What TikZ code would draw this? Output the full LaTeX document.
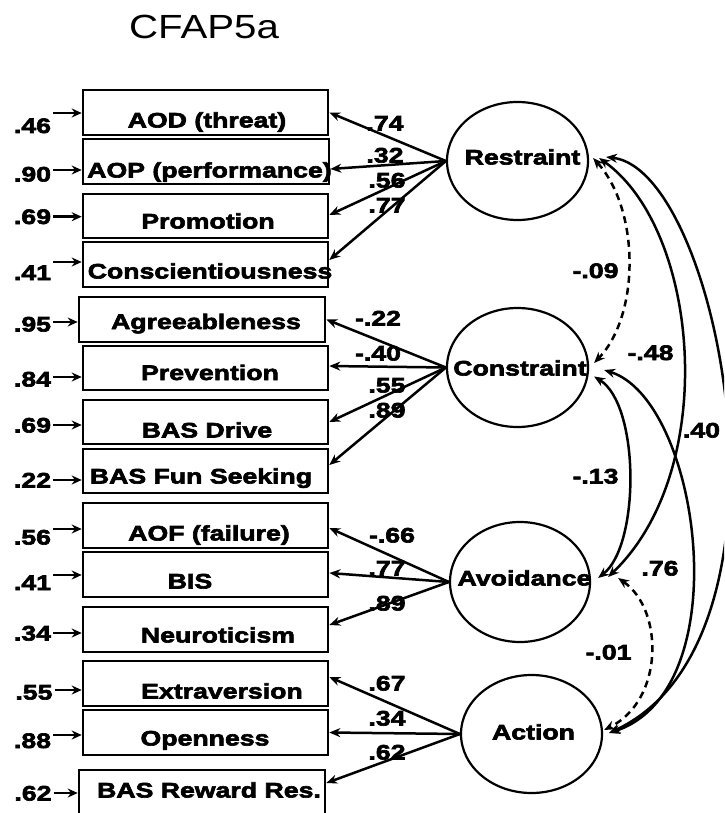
\documentclass[tikz,border=0pt]{standalone}
\usepackage{fontspec}
\usetikzlibrary{shapes.geometric,arrows.meta,calc}
\newfontfamily\lblfont{Liberation Sans}[FakeStretch=1.27,FakeBold=3]
\newfontfamily\ttlfont{Liberation Sans}[FakeStretch=1.2]
\begin{document}
\begin{tikzpicture}[x=1pt,y=-1pt,
  box/.style={draw, line width=2.6pt, inner sep=0pt, minimum height=45pt},
  lat/.style={draw, ellipse, line width=2.2pt, inner sep=0pt},
  lbl/.style={font=\lblfont\bfseries\fontsize{21}{21}\selectfont, inner sep=0pt, anchor=base},
  ttl/.style={font=\ttlfont\fontsize{33.5}{33.5}\selectfont, inner sep=0pt, anchor=base},
  res/.style={line width=2.5pt, -{Stealth[length=10pt,width=9pt]}},
  load/.style={line width=2.5pt, -{Stealth[length=11pt,width=9pt]}},
  cor/.style={line width=2.5pt, {Stealth[length=11pt,width=9pt]}-{Stealth[length=11pt,width=9pt]}},
  cordash/.style={cor, dash pattern=on 7pt off 5pt}]
\useasboundingbox (0,0) rectangle (724,813);
\clip (0,0) rectangle (724,813);
\fill[white] (0,0) rectangle (724,813);

% title
\node[ttl] (title) at (204,39) {CFAP5a};

% indicator boxes
\node[box, minimum width=245pt] (b1) at (205.5,112.5) {};
\node[box, minimum width=246pt] (b2) at (206,161.5) {};
\node[box, minimum width=245pt, minimum height=44pt] (b3) at (205.5,216) {};
\node[box, minimum width=245pt] (b4) at (205.5,264.5) {};
\node[box, minimum width=246pt] (b5) at (202,319.5) {};
\node[box, minimum width=245pt, minimum height=44pt] (b6) at (205.5,368) {};
\node[box, minimum width=245pt, minimum height=44pt] (b7) at (205.5,422) {};
\node[box, minimum width=245pt, minimum height=44pt] (b8) at (205.5,471) {};
\node[box, minimum width=245pt] (b9) at (205.5,525.5) {};
\node[box, minimum width=245pt] (b10) at (205.5,574.5) {};
\node[box, minimum width=245pt] (b11) at (205.5,629.5) {};
\node[box, minimum width=245pt] (b12) at (205.5,683.5) {};
\node[box, minimum width=245pt] (b13) at (205.5,732.5) {};
\node[box, minimum width=246pt] (b14) at (202,792.5) {};

% box texts
\node[lbl] (t1) at (207,127.5) {AOD (threat)};
\node[lbl] (t2) at (209.5,177.5) {AOP (performance)};
\node[lbl] (t3) at (208,228.5) {Promotion};
\node[lbl] (t4) at (210,278.5) {Conscientiousness};
\node[lbl] (t5) at (206,329) {Agreeableness};
\node[lbl] (t6) at (210,380) {Prevention};
\node[lbl] (t7) at (207,437.5) {BAS Drive};
\node[lbl] (t8) at (201,483.5) {BAS Fun Seeking};
\node[lbl] (t9) at (209,540.5) {AOF (failure)};
\node[lbl] (t10) at (190,588.5) {BIS};
\node[lbl] (t11) at (218,642.5) {Neuroticism};
\node[lbl] (t12) at (222,698.5) {Extraversion};
\node[lbl] (t13) at (205,745.5) {Openness};
\node[lbl] (t14) at (209,797.5) {BAS Reward Res.};

% residuals
\node[lbl] (e1) at (32.5,133) {.46};
\node[lbl] (e2) at (32.5,181.5) {.90};
\node[lbl] (e3) at (32.5,224) {.69};
\node[lbl] (e4) at (32.5,280) {.41};
\node[lbl] (e5) at (32.5,331.5) {.95};
\node[lbl] (e6) at (32.5,386.5) {.84};
\node[lbl] (e7) at (32.5,432.5) {.69};
\node[lbl] (e8) at (32.5,487.5) {.22};
\node[lbl] (e9) at (32.5,544.5) {.56};
\node[lbl] (e10) at (32.5,590) {.41};
\node[lbl] (e11) at (32.5,640.5) {.34};
\node[lbl] (e12) at (34,699.5) {.55};
\node[lbl] (e13) at (32.5,748) {.88};
\node[lbl] (e14) at (33,800.5) {.62};

\draw[res] (e1.east |- 0,113) ++(2,0) -- (b1.west |- 0,113);
\draw[res] (e2.east |- 0,170) ++(2,0) -- (b2.west |- 0,170);
\draw[res] (e3.east |- 0,216.7) ++(2,0) -- (b3.west |- 0,216.7);
\draw[res] (e4.east |- 0,262) ++(2,0) -- (b4.west |- 0,262);
\draw[res] (e5.east |- 0,322) ++(2,0) -- (b5.west |- 0,322);
\draw[res] (e6.east |- 0,377) ++(2,0) -- (b6.west |- 0,377);
\draw[res] (e7.east |- 0,425) ++(2,0) -- (b7.west |- 0,425);
\draw[res] (e8.east |- 0,480) ++(2,0) -- (b8.west |- 0,480);
\draw[res] (e9.east |- 0,529) ++(2,0) -- (b9.west |- 0,529);
\draw[res] (e10.east |- 0,575) ++(2,0) -- (b10.west |- 0,575);
\draw[res] (e11.east |- 0,633) ++(2,0) -- (b11.west |- 0,633);
\draw[res] (e12.east |- 0,690) ++(2,0) -- (b12.west |- 0,690);
\draw[res] (e13.east |- 0,735) ++(2,0) -- (b13.west |- 0,735);
\draw[res] (e14.east |- 0,793) ++(2,0) -- (b14.west |- 0,793);

% latent factors
\node[lat, minimum width=141pt, minimum height=118pt] (R) at (517.5,161) {};
\node[lat, minimum width=141pt, minimum height=119pt] (C) at (517.5,367.5) {};
\node[lat, minimum width=140pt, minimum height=120pt] (Av) at (520,582) {};
\node[lat, minimum width=141pt, minimum height=118pt] (Ac) at (531.5,734) {};
\node[lbl] (tR) at (522.5,164.5) {Restraint};
\node[lbl] (tC) at (520,375.5) {Constraint};
\node[lbl] (tAv) at (524.5,585.5) {Avoidance};
\node[lbl] (tAc) at (533.5,739.5) {Action};

% loadings
\draw[load] (R.west) -- (b1.east);
\draw[load] (R.west) -- ($(b2.east)+(0,7.5)$);
\draw[load] (R.west) -- ($(b3.east)+(0,-1)$);
\draw[load] (R.west) -- ($(b4.east)+(0,-4.5)$);
\draw[load] (C.west) -- (b5.east);
\draw[load] (C.west) -- ($(b6.east)+(0,-2)$);
\draw[load] (C.west) -- (b7.east);
\draw[load] (C.west) -- ($(b8.east)+(0,-6)$);
\draw[load] (Av.west) -- ($(b9.east)+(0,2.5)$);
\draw[load] (Av.west) -- ($(b10.east)+(0,-1.5)$);
\draw[load] (Av.west) -- ($(b11.east)+(0,-4.5)$);
\draw[load] (Ac.west) -- ($(b12.east)+(0,-6.5)$);
\draw[load] (Ac.west) -- (b13.east);
\draw[load] (Ac.west) -- ($(b14.east)+(0,-9.5)$);

\node[lbl] (l1) at (385,130.5) {.74};
\node[lbl] (l2) at (385,162.5) {.32};
\node[lbl] (l3) at (387,187.5) {.56};
\node[lbl] (l4) at (387,212.5) {.77};
\node[lbl] (l5) at (378,325.5) {-.22};
\node[lbl] (l6) at (378,360.5) {-.40};
\node[lbl] (l7) at (387,392.5) {.55};
\node[lbl] (l8) at (387,417.5) {.89};
\node[lbl] (l9) at (392,542.5) {-.66};
\node[lbl] (l10) at (387,575.5) {.77};
\node[lbl] (l11) at (387,610.5) {.89};
\node[lbl] (l12) at (387,690.5) {.67};
\node[lbl] (l13) at (387,725.5) {.34};
\node[lbl] (l14) at (387,759.5) {.62};

% correlations
\draw[cordash] ($(R.east)+(4,-3)$) .. controls (640,210) and (640,315) .. ($(C.east)+(5,-4.5)$);
\draw[cor] ($(R.east)+(10,-3)$) .. controls (700,230) and (720,470) .. ($(Av.east)+(17,-5)$);
\draw[cor] ($(R.east)+(17,-4)$) .. controls (720,170) and (810,640) .. ($(Ac.east)+(6,-1)$);
\draw[cor] ($(C.east)+(5,9)$) .. controls (640,405) and (640,545) .. ($(Av.east)+(7,-4)$);
\draw[cor] ($(C.east)+(15,2.5)$) .. controls (700,400) and (740,690) .. ($(Ac.east)+(6,-1)$);
\draw[cordash] ($(Av.east)+(27,-4)$) .. controls (664,610) and (664,700) .. ($(Ac.east)+(1,-4)$);

\node[lbl] (c1) at (595.5,278) {-.09};
\node[lbl] (c2) at (650.5,360) {-.48};
\node[lbl] (c3) at (701.5,437.5) {.40};
\node[lbl] (c4) at (595.5,483.5) {-.13};
\node[lbl] (c5) at (660,575.5) {.76};
\node[lbl] (c6) at (608.5,659.5) {-.01};
\end{tikzpicture}
\end{document}
